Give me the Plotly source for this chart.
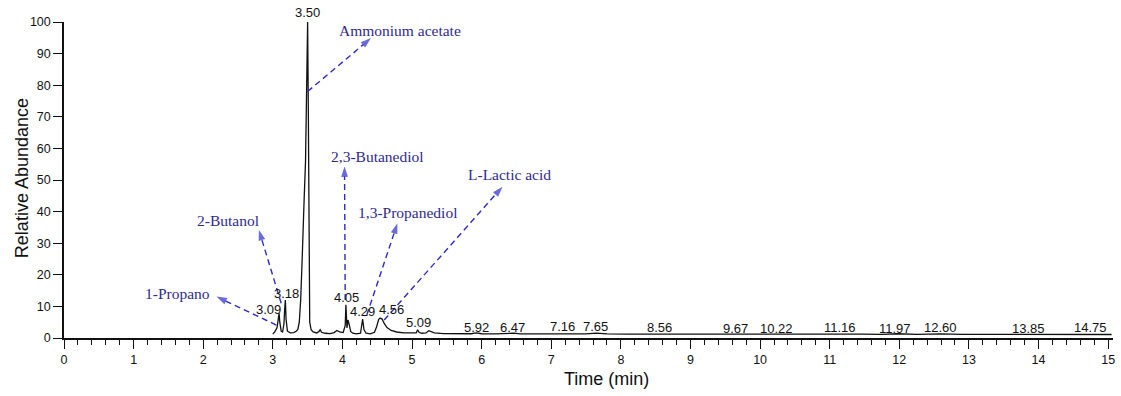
import plotly.graph_objects as go

# ---- chromatogram trace (time in min, relative abundance %) ----
time = [3.00, 3.03, 3.06, 3.08, 3.09, 3.10, 3.12, 3.14, 3.16, 3.17, 3.18, 3.19, 3.21,
        3.25, 3.30, 3.34, 3.36, 3.38, 3.40, 3.42, 3.43, 3.45, 3.47, 3.48, 3.49, 3.50,
        3.51, 3.515, 3.52, 3.53, 3.55, 3.58, 3.63, 3.66, 3.68, 3.70, 3.75, 3.82,
        3.88, 3.92, 3.96, 4.01, 4.04, 4.05, 4.065, 4.08, 4.10, 4.12, 4.15, 4.20,
        4.26, 4.28, 4.29, 4.31, 4.34, 4.40, 4.46, 4.49, 4.52, 4.54, 4.57, 4.60,
        4.64, 4.70, 4.78, 4.88, 5.00, 5.06, 5.08, 5.10, 5.14, 5.20, 5.24, 5.27,
        5.32, 5.45, 5.65, 5.85, 5.92, 6.00, 6.20, 6.40, 6.47, 6.55, 6.80, 7.00,
        7.16, 7.30, 7.50, 7.65, 7.80, 8.10, 8.35, 8.56, 8.80, 9.10, 9.40, 9.67,
        9.90, 10.22, 10.50, 10.80, 11.16, 11.45, 11.75, 11.97, 12.25, 12.60,
        12.90, 13.20, 13.55, 13.85, 14.10, 14.45, 14.75, 15.05]
abundance = [1.2, 2.0, 3.2, 6.0, 7.8, 5.0, 2.2, 1.9, 4.5, 9.0, 12.0, 6.0, 2.2,
             1.6, 1.7, 2.2, 2.8, 5.0, 12.0, 24.0, 33.0, 44.0, 56.0, 70.0, 88.0, 100.0,
             72.0, 45.0, 20.0, 5.0, 2.6, 1.9, 1.6, 2.0, 2.6, 1.8, 1.5, 1.4,
             1.7, 2.4, 1.9, 1.7, 4.0, 10.5, 3.2, 5.7, 4.0, 2.0, 1.5, 1.3,
             1.5, 5.0, 6.0, 2.6, 1.5, 1.3, 1.8, 3.5, 5.8, 6.3, 6.0, 4.6,
             3.3, 2.4, 1.9, 1.6, 1.5, 1.6, 2.6, 1.8, 1.5, 1.6, 2.3, 2.1,
             1.6, 1.4, 1.35, 1.35, 1.6, 1.35, 1.3, 1.35, 1.55, 1.3, 1.3, 1.3,
             1.5, 1.3, 1.3, 1.55, 1.3, 1.25, 1.25, 1.45, 1.25, 1.2, 1.2, 1.4,
             1.2, 1.4, 1.2, 1.2, 1.35, 1.2, 1.15, 1.35, 1.15, 1.3,
             1.15, 1.15, 1.15, 1.3, 1.15, 1.1, 1.25, 1.1]

# ---- retention time labels ----
rt_labels = ["3.50", "3.18", "3.09", "4.05", "4.29", "4.56", "5.09", "5.92", "6.47",
             "7.16", "7.65", "8.56", "9.67", "10.22", "11.16", "11.97", "12.60",
             "13.85", "14.75"]
rt_label_x = [3.50, 3.20, 2.94, 4.06, 4.29, 4.70, 5.09, 5.92, 6.45,
              7.16, 7.64, 8.55, 9.65, 10.23, 11.15, 11.94, 12.59, 13.85, 14.74]
rt_label_y = [100.0, 14.2, 8.9, 12.8, 8.3, 8.9, 4.8, 3.4, 3.3,
              3.5, 3.5, 3.3, 3.1, 3.1, 3.3, 3.1, 3.4, 3.1, 3.2]

# ---- compound annotations ----
compounds = ["Ammonium acetate", "2,3-Butanediol", "1,3-Propanediol",
             "L-Lactic acid", "2-Butanol", "1-Propano"]
name_x = [4.82, 4.50, 4.93, 6.40, 2.35, 1.63]
name_y = [97.3, 57.4, 39.6, 51.9, 37.1, 14.2]
arrow_tail_x = [3.50, 4.04, 4.35, 4.60, 3.12, 3.05]
arrow_tail_y = [78.0, 12.0, 7.3, 5.7, 11.0, 4.1]
arrow_head_x = [4.41, 4.03, 4.79, 6.30, 2.80, 2.19]
arrow_head_y = [94.9, 54.3, 36.3, 47.9, 34.2, 13.1]

x_ticks = list(range(0, 16))
y_ticks = list(range(0, 101, 10))

fig = go.Figure()
fig.add_trace(go.Scatter(x=time, y=abundance, mode="lines",
                         line=dict(color="#111111", width=1.3),
                         showlegend=False, hoverinfo="skip"))

ARROW = "#2b2bcc"
for tx, ty, hx, hy in zip(arrow_tail_x, arrow_tail_y, arrow_head_x, arrow_head_y):
    fig.add_trace(go.Scatter(
        x=[tx, hx], y=[ty, hy], mode="lines+markers",
        line=dict(color=ARROW, width=1.4, dash="6px,4px"),
        marker=dict(symbol="arrow", size=[0, 11], angleref="previous",
                    color=ARROW, line=dict(width=0)),
        showlegend=False, hoverinfo="skip", cliponaxis=False))

for i, (t, x, y) in enumerate(zip(rt_labels, rt_label_x, rt_label_y)):
    if i == 0:
        # apex label of the base peak sits just above the plotting frame
        fig.add_annotation(x=x, y=y, text=t, showarrow=False, yanchor="middle", yshift=10,
                           font=dict(family="Liberation Sans, Arial", size=13, color="#111111"))
    else:
        fig.add_annotation(x=x, y=y, text=t, showarrow=False,
                           font=dict(family="Liberation Sans, Arial", size=13, color="#111111"))

for t, x, y in zip(compounds, name_x, name_y):
    fig.add_annotation(x=x, y=y, text=t, showarrow=False,
                       font=dict(family="Liberation Serif, Times New Roman", size=15.5,
                                 color="#2f2a8e"))

fig.add_annotation(xref="paper", yref="paper", x=0.5176, y=-0.13, text="Time (min)",
                   showarrow=False, yanchor="middle",
                   font=dict(family="Liberation Sans, Arial", size=18, color="#111111"))
fig.add_annotation(xref="paper", yref="paper", x=-0.040, y=0.506, text="Relative Abundance",
                   showarrow=False, textangle=-90, xanchor="center", yanchor="middle",
                   font=dict(family="Liberation Sans, Arial", size=18, color="#111111"))

fig.update_layout(
    width=1121, height=396,
    margin=dict(l=64, r=6, t=22, b=58),
    paper_bgcolor="white", plot_bgcolor="white",
    font=dict(family="Liberation Sans, Arial", size=12, color="#111111"),
    xaxis=dict(range=[0, 15.07], tickvals=x_ticks, ticks="outside", ticklen=9,
               tickwidth=1.2, tickcolor="#111111", showline=True, linecolor="#111111",
               linewidth=1.5, showgrid=False, zeroline=False,
               minor=dict(dtick=0.2, tick0=0, ticks="outside", ticklen=5,
                          tickwidth=1, tickcolor="#111111", showgrid=False),
               tickfont=dict(size=12.5)),
    yaxis=dict(range=[0, 100], tickvals=y_ticks, ticks="outside", ticklen=9,
               tickwidth=1.2, tickcolor="#111111", showline=True, linecolor="#111111",
               linewidth=1.5, showgrid=False, zeroline=False,
               tickfont=dict(size=12.5)),
)

fig.write_html("out.html")
